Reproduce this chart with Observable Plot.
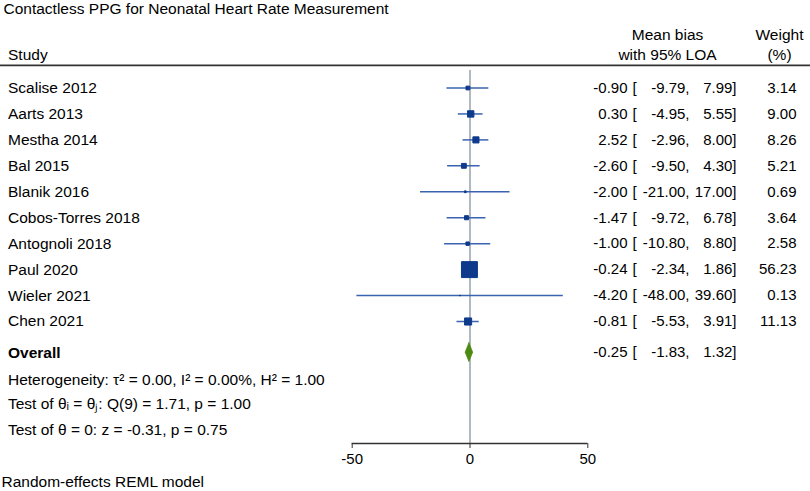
<!DOCTYPE html>
<html>
<head>
<meta charset="utf-8">
<script src="https://cdn.jsdelivr.net/npm/d3@7"></script>
<script src="https://cdn.jsdelivr.net/npm/@observablehq/plot@0.6"></script>
<style>
  html, body { margin: 0; padding: 0; background: #fff; }
  svg { display: block; }
</style>
</head>
<body>
<div id="chart"></div>
<script>
// ---- data ----
const studies = ["Scalise 2012", "Aarts 2013", "Mestha 2014", "Bal 2015", "Blanik 2016",
  "Cobos-Torres 2018", "Antognoli 2018", "Paul 2020", "Wieler 2021", "Chen 2021"];
const bias   = [-0.90, 0.30, 2.52, -2.60, -2.00, -1.47, -1.00, -0.24, -4.20, -0.81];
const lower  = [-9.79, -4.95, -2.96, -9.50, -21.00, -9.72, -10.80, -2.34, -48.00, -5.53];
const upper  = [7.99, 5.55, 8.00, 4.30, 17.00, 6.78, 8.80, 1.86, 39.60, 3.91];
const weight = [3.14, 9.00, 8.26, 5.21, 0.69, 3.64, 2.58, 56.23, 0.13, 11.13];
const overallBias = -0.25, overallLower = -1.83, overallUpper = 1.32;
const xTicks = [-50, 0, 50];
const titleText = "Contactless PPG for Neonatal Heart Rate Measurement";
const statLines = [
  "Heterogeneity: τ² = 0.00, I² = 0.00%, H² = 1.00",
  "Test of θᵢ = θⱼ: Q(9) = 1.71, p = 1.00",
  "Test of θ = 0: z = -0.31, p = 0.75"
];
const captionText = "Random-effects REML model";

// ---- layout (row units) ----
const rows = studies.map((s, i) => ({
  study: s, y: i + 1, bias: bias[i], lower: lower[i], upper: upper[i], weight: weight[i]
}));
const yOverall = 11.2;
const statY = [12.24, 13.2, 14.17];
const yAxis = 14.7;
const dh = 0.36;
const diamond = [
  {y: yOverall - dh, x1: overallBias, x2: overallBias},
  {y: yOverall, x1: overallLower, x2: overallUpper},
  {y: yOverall + dh, x1: overallBias, x2: overallBias}
];
const fmt = v => v.toFixed(2);
const FS = 15.5;   // labels
const NS = 15;     // numbers
const font = "'Liberation Sans', Arial, Helvetica, sans-serif";

const chart = Plot.plot({
  width: 810,
  height: 491,
  marginTop: 0, marginLeft: 0, marginRight: 0, marginBottom: 48,
  style: {fontFamily: font, fontSize: FS + "px", color: "#000", background: "#fff"},
  x: {domain: [-50, 50], range: [351.7, 587.3], axis: null},
  y: {domain: [1, 10], range: [87.5, 321], axis: null},
  r: {domain: [0, d3.max(weight)], range: [0, 9]},
  marks: [
    // title & headers
    Plot.text([titleText], {text: d => d, y: -2.06, frameAnchor: "left", dx: 3, textAnchor: "start", fontSize: FS}),
    Plot.text(["Study"], {text: d => d, y: -0.27, frameAnchor: "left", dx: 7.5, textAnchor: "start", fontSize: FS}),
    Plot.text(["Mean bias"], {text: d => d, y: -1.06, frameAnchor: "left", dx: 667, textAnchor: "middle", fontSize: FS}),
    Plot.text(["with 95% LOA"], {text: d => d, y: -0.27, frameAnchor: "left", dx: 667, textAnchor: "middle", fontSize: FS}),
    Plot.text(["Weight"], {text: d => d, y: -1.06, frameAnchor: "left", dx: 779, textAnchor: "middle", fontSize: FS}),
    Plot.text(["(%)"], {text: d => d, y: -0.27, frameAnchor: "left", dx: 779, textAnchor: "middle", fontSize: FS}),
    Plot.ruleY([0.13], {stroke: "#333", strokeWidth: 1.8}),

    // zero line
    Plot.ruleX([0], {y1: 0.33, y2: yAxis, stroke: "#7d8b96", strokeWidth: 1.2}),

    // study CIs and squares
    Plot.ruleY(rows, {y: "y", x1: "lower", x2: "upper", stroke: "#3a63b0", strokeWidth: 1.5}),
    Plot.dot(rows, {x: "bias", y: "y", r: "weight", symbol: "square", fill: "#0e3a8c", stroke: "#0e3a8c", strokeWidth: 1}),

    // overall diamond
    Plot.areaX(diamond, {y: "y", x1: "x1", x2: "x2", fill: "#4c8a12", stroke: "#4c8a12", strokeWidth: 0.8}),

    // row labels
    Plot.text(rows, {y: "y", text: "study", frameAnchor: "left", dx: 7.5, textAnchor: "start", fontSize: FS}),
    Plot.text(rows, {y: "y", text: d => fmt(d.bias), frameAnchor: "left", dx: 627, textAnchor: "end", fontSize: NS}),
    Plot.text(rows, {y: "y", text: () => "[", frameAnchor: "left", dx: 632, textAnchor: "start", fontSize: NS}),
    Plot.text(rows, {y: "y", text: d => fmt(d.lower) + ",", frameAnchor: "left", dx: 689, textAnchor: "end", fontSize: NS}),
    Plot.text(rows, {y: "y", text: d => fmt(d.upper) + "]", frameAnchor: "left", dx: 736, textAnchor: "end", fontSize: NS}),
    Plot.text(rows, {y: "y", text: d => fmt(d.weight), frameAnchor: "left", dx: 796, textAnchor: "end", fontSize: NS}),

    // overall row
    Plot.text(["Overall"], {text: d => d, y: yOverall, frameAnchor: "left", dx: 7.5, textAnchor: "start", fontWeight: "bold", fontSize: FS}),
    Plot.text([overallBias], {text: d => fmt(d), y: yOverall, frameAnchor: "left", dx: 627, textAnchor: "end", fontSize: NS}),
    Plot.text(["["], {text: d => d, y: yOverall, frameAnchor: "left", dx: 632, textAnchor: "start", fontSize: NS}),
    Plot.text([overallLower], {text: d => fmt(d) + ",", y: yOverall, frameAnchor: "left", dx: 689, textAnchor: "end", fontSize: NS}),
    Plot.text([overallUpper], {text: d => fmt(d) + "]", y: yOverall, frameAnchor: "left", dx: 736, textAnchor: "end", fontSize: NS}),

    // stats
    Plot.text(statLines, {text: d => d, y: (d, i) => statY[i], frameAnchor: "left", dx: 7.5, textAnchor: "start", fontSize: FS}),

    // x axis
    Plot.ruleY([yAxis], {x1: -50, x2: 50, stroke: "#333", strokeWidth: 1.5}),
    Plot.axisX({ticks: xTicks, tickFormat: d => `${d}`, tickSize: 5, tickPadding: 5, label: null, fontSize: NS, stroke: "#333"}),

    // caption
    Plot.text([captionText], {text: d => d, y: 16.2, frameAnchor: "left", dx: 1, textAnchor: "start", fontSize: FS})
  ]
});
document.getElementById("chart").append(chart);
</script>
</body>
</html>
